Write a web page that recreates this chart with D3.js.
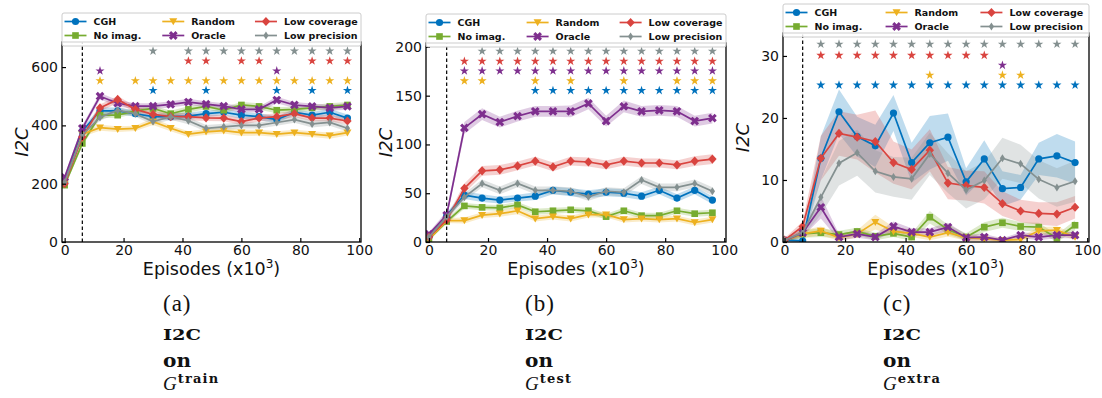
<!DOCTYPE html>
<html>
<head>
<meta charset="utf-8">
<script src="https://cdn.jsdelivr.net/npm/d3@7"></script>
<style>
  body { margin: 0; background: #fff; }
</style>
</head>
<body>
<script>
// episodes (x10^3) at which every run was evaluated
const episodes = [0, 6, 12, 18, 24, 30, 36, 42, 48, 54, 60, 66, 72, 78, 84, 90, 96]
const seriesNames = ["CGH", "No imag.", "Random", "Oracle", "Low coverage", "Low precision"]
const xTicks = [0, 20, 40, 60, 80, 100]
const warmup = 6

// (a) G train
const trainMean = {
    "CGH":           [205, 380, 450, 450, 440, 430, 430, 432, 440, 445, 435, 430, 420, 445, 435, 445, 425],
    "No imag.":      [195, 338, 435, 435, 450, 458, 440, 455, 465, 452, 470, 465, 452, 455, 460, 465, 470],
    "Random":        [200, 370, 392, 387, 390, 413, 390, 370, 378, 382, 375, 375, 370, 375, 370, 365, 375],
    "Oracle":        [222, 390, 500, 476, 466, 466, 472, 480, 473, 466, 455, 455, 487, 470, 465, 460, 465],
    "Low coverage":  [200, 360, 460, 489, 455, 438, 430, 430, 426, 425, 413, 425, 430, 440, 425, 425, 415],
    "Low precision": [205, 367, 427, 452, 440, 413, 430, 416, 390, 395, 400, 400, 410, 420, 405, 410, 390]
}
const trainStd = {
    "CGH":           [6, 10, 12, 11, 10, 11, 12, 12, 11, 10, 12, 12, 11, 10, 11, 12, 12],
    "No imag.":      [6, 9, 10, 10, 9, 10, 10, 11, 10, 10, 10, 11, 10, 10, 10, 11, 10],
    "Random":        [6, 9, 10, 10, 9, 12, 10, 10, 10, 10, 11, 10, 10, 10, 10, 11, 10],
    "Oracle":        [7, 10, 11, 11, 10, 10, 11, 11, 10, 10, 11, 10, 11, 10, 10, 10, 11],
    "Low coverage":  [6, 10, 12, 12, 11, 11, 12, 12, 11, 11, 12, 11, 12, 11, 11, 12, 11],
    "Low precision": [6, 9, 11, 11, 10, 11, 11, 12, 11, 11, 11, 11, 11, 11, 12, 11, 11]
}
const trainStars = {
    "Low precision": [30, 42, 48, 54, 60, 66, 72, 78, 84, 90, 96],
    "Low coverage":  [42, 48, 60, 66, 84, 90, 96],
    "Oracle":        [12, 72],
    "Random":        [12, 24, 30, 36, 42, 48, 54, 60, 66, 72, 78, 84, 90, 96],
    "CGH":           [30, 48, 72, 84, 96]
}
const trainStarY = { "Low precision": 655, "Low coverage": 621, "Oracle": 587, "Random": 553, "CGH": 520 }
const trainTicks = [0, 200, 400, 600]

// (b) G test
const testMean = {
    "CGH":           [5, 27, 48, 45, 43, 45, 47, 53, 51, 49, 51, 50, 47, 53, 45, 53, 43],
    "No imag.":      [3, 21, 37, 35.5, 35, 38, 31, 32, 33, 32, 26, 32, 27, 27, 32, 29, 30],
    "Random":        [3, 22, 22, 27.6, 29, 32, 24, 26, 24, 28, 28, 23, 24, 23, 24, 20, 23],
    "Oracle":        [8, 27.6, 117, 131, 123, 129, 134, 134, 134, 142, 124, 139, 134, 135, 134, 124, 127],
    "Low coverage":  [5, 22.5, 55, 73, 74, 78, 83, 77, 83, 82, 79, 83, 81, 81, 79, 83, 85],
    "Low precision": [5, 26, 46, 60, 53, 60, 53, 53, 52, 46.4, 52, 51, 63.5, 56, 56, 60, 52]
}
const testStd = {
    "CGH":           [1.5, 3, 4, 4, 3.5, 3.5, 4, 4, 4, 4, 4, 4, 4, 4, 4, 4, 4],
    "No imag.":      [1.5, 2.5, 3, 3, 3, 3, 3, 3, 3, 3, 3, 3, 3, 3, 3, 3, 3],
    "Random":        [1.5, 2.5, 3, 3, 3, 3.5, 3, 3, 3, 3, 3, 3, 3, 3, 3, 3, 3],
    "Oracle":        [2, 4, 6, 6, 5.5, 5.5, 5.5, 5.5, 6, 6, 5.5, 6, 5.5, 5.5, 5.5, 5.5, 5.5],
    "Low coverage":  [1.5, 3, 5, 5, 5, 4.5, 4.5, 4.5, 4.5, 4.5, 4.5, 4.5, 4.5, 4.5, 4.5, 5, 5],
    "Low precision": [1.5, 3, 4, 4, 4, 4, 4, 4, 4, 4, 4, 4, 4, 4, 4, 4, 4]
}
const testStars = {
    "Low precision": [18, 24, 30, 36, 42, 48, 54, 60, 66, 72, 78, 84, 90, 96],
    "Low coverage":  [12, 18, 24, 30, 36, 42, 48, 54, 60, 66, 72, 78, 84, 90, 96],
    "Oracle":        [12, 18, 24, 30, 36, 42, 48, 54, 60, 66, 72, 78, 84, 90, 96],
    "Random":        [12, 18, 36, 48, 66, 84, 90, 96],
    "CGH":           [36, 42, 48, 54, 60, 66, 72, 78, 84, 90, 96]
}
const testStarY = { "Low precision": 195.6, "Low coverage": 185.3, "Oracle": 175.4, "Random": 165.2, "CGH": 155.3 }
const testTicks = [0, 50, 100, 150, 200]

// (c) G extra
const extraMean = {
    "CGH":           [0.3, 0.2, 13.5, 21.0, 17.0, 15.5, 20.8, 12.8, 16.0, 16.9, 9.7, 13.4, 8.6, 8.8, 13.4, 13.9, 12.8],
    "No imag.":      [0.2, 1.3, 1.5, 1.2, 1.7, 0.9, 1.4, 0.8, 4.0, 2.0, 0.8, 2.4, 3.1, 2.5, 2.4, 0.6, 2.7],
    "Random":        [0.2, 1.3, 1.8, 0.7, 1.3, 3.2, 1.7, 1.4, 0.8, 1.5, 0.7, 0.5, 0.3, 0.4, 1.8, 1.9, 0.8],
    "Oracle":        [0.2, 1.5, 5.6, 0.8, 1.3, 0.8, 2.5, 1.6, 1.6, 2.4, 0.7, 0.8, 0.3, 1.1, 0.8, 1.1, 1.1],
    "Low coverage":  [0.3, 2.5, 13.5, 17.5, 16.9, 16.2, 12.8, 11.7, 14.8, 9.5, 9.1, 8.8, 6.2, 5.0, 4.6, 4.5, 5.6],
    "Low precision": [0.3, 1.5, 7.2, 12.7, 14.4, 11.4, 10.5, 10.2, 14.2, 11.1, 8.4, 9.9, 13.5, 12.6, 10.1, 8.8, 9.8]
}
const extraStd = {
    "CGH":           [0.3, 0.4, 3.5, 3.6, 3.2, 3.4, 2.9, 3.2, 4.3, 3.8, 2.2, 3.0, 2.8, 2.0, 2.6, 3.5, 3.4],
    "No imag.":      [0.2, 0.6, 0.7, 0.6, 0.6, 0.6, 0.6, 0.6, 1.0, 0.8, 0.6, 0.8, 0.8, 0.7, 0.7, 0.6, 0.8],
    "Random":        [0.2, 0.6, 0.7, 0.5, 0.6, 1.2, 0.7, 0.6, 0.5, 0.6, 0.5, 0.4, 0.3, 0.4, 0.6, 0.6, 0.5],
    "Oracle":        [0.2, 0.6, 1.8, 0.5, 0.6, 0.5, 0.8, 0.6, 0.6, 0.7, 0.5, 0.5, 0.3, 0.5, 0.5, 0.5, 0.5],
    "Low coverage":  [0.3, 0.8, 3.6, 3.6, 3.6, 5.0, 3.4, 3.2, 3.4, 2.6, 2.4, 2.6, 2.0, 1.8, 1.8, 1.9, 1.8],
    "Low precision": [0.3, 0.6, 2.8, 3.6, 3.7, 3.4, 3.2, 3.4, 3.4, 3.2, 3.0, 3.0, 3.3, 3.1, 3.1, 3.1, 3.3]
}
const extraStars = {
    "Low precision": [12, 18, 24, 30, 36, 42, 48, 54, 60, 66, 72, 78, 84, 90, 96],
    "Low coverage":  [12, 18, 24, 30, 36, 42, 48, 54, 60, 66],
    "Oracle":        [72],
    "Random":        [48, 72, 78],
    "CGH":           [12, 18, 24, 30, 36, 42, 48, 54, 60, 66, 72, 78, 84, 90, 96]
}
const extraStarY = { "Low precision": 31.9, "Low coverage": 30.1, "Oracle": 28.5, "Random": 26.9, "CGH": 25.3 }
const extraTicks = [0, 10, 20, 30]

const captionLetters = ["(a)", "(b)", "(c)"]
const captionSets = ["train", "test", "extra"]

// ---- styling / layout ----
const colors = {
    "CGH": "#0072bd",
    "No imag.": "#77ac30",
    "Random": "#edb120",
    "Oracle": "#7e2f8e",
    "Low coverage": "#d9443f",
    "Low precision": "#849090"
}
const sans = "'DejaVu Sans', sans-serif"
const serif = "'DejaVu Serif', serif"
const thinSerif = "'Liberation Serif', serif"

const panels = [
    { mean: trainMean, std: trainStd, stars: trainStars, starY: trainStarY, ticks: trainTicks,
      left: 62, right: 361, top: 42, bottom: 242, ymax: 686, xmin: -0.9, capX: 163 },
    { mean: testMean, std: testStd, stars: testStars, starY: testStarY, ticks: testTicks,
      left: 426, right: 726, top: 43, bottom: 242, ymax: 204, xmin: -1, capX: 525 },
    { mean: extraMean, std: extraStd, stars: extraStars, starY: extraStarY, ticks: extraTicks,
      left: 783, right: 1089, top: 33, bottom: 242, ymax: 33.7, xmin: -0.5, capX: 883 }
]

const svg = d3.select("body").append("svg")
    .attr("width", 1102)
    .attr("height", 398)

// marker shapes for each method
function drawMarker(sel, name, cx, cy) {
    const c = colors[name]
    let path
    if (name === "CGH") {
        return sel.append("circle").attr("cx", cx).attr("cy", cy).attr("r", 3.6).attr("fill", c)
    } else if (name === "No imag.") {
        path = d3.symbol(d3.symbolSquare, 44)()
    } else if (name === "Random") {
        path = "M-4,-3.2L4,-3.2L0,3.8Z"
    } else if (name === "Oracle") {
        path = d3.symbol(d3.symbolCross, 48)()
        return sel.append("path").attr("d", path).attr("fill", c)
            .attr("transform", `translate(${cx},${cy}) rotate(45)`)
    } else if (name === "Low coverage") {
        path = "M0,-4.6L4.2,0L0,4.6L-4.2,0Z"
    } else {
        path = "M0,-4L2.6,0L0,4L-2.6,0Z"
    }
    return sel.append("path").attr("d", path).attr("fill", c)
        .attr("transform", `translate(${cx},${cy})`)
}

panels.forEach((p, pi) => {
    const x = d3.scaleLinear().domain([p.xmin, 100.6]).range([p.left, p.right])
    const y = d3.scaleLinear().domain([0, p.ymax]).range([p.bottom, p.top])

    const clipId = "clip" + pi
    svg.append("clipPath").attr("id", clipId)
        .append("rect")
        .attr("x", p.left).attr("y", p.top)
        .attr("width", p.right - p.left).attr("height", p.bottom - p.top)

    const plot = svg.append("g").attr("clip-path", `url(#${clipId})`)

    // shaded std bands
    seriesNames.forEach(name => {
        const m = p.mean[name], s = p.std[name]
        const area = d3.area()
            .x((d, i) => x(episodes[i]))
            .y0((d, i) => y(m[i] - s[i]))
            .y1((d, i) => y(m[i] + s[i]))
        plot.append("path")
            .attr("d", area(m))
            .attr("fill", colors[name])
            .attr("fill-opacity", 0.25)
    })

    // mean lines and markers
    seriesNames.forEach(name => {
        const m = p.mean[name]
        const line = d3.line()
            .x((d, i) => x(episodes[i]))
            .y(d => y(d))
        plot.append("path")
            .attr("d", line(m))
            .attr("fill", "none")
            .attr("stroke", colors[name])
            .attr("stroke-width", 1.7)
        m.forEach((v, i) => drawMarker(plot, name, x(episodes[i]), y(v)))
    })

    // significance stars
    Object.keys(p.stars).forEach(name => {
        p.stars[name].forEach(ep => {
            svg.append("path")
                .attr("d", d3.symbol(d3.symbolStar, 26)())
                .attr("fill", colors[name])
                .attr("transform", `translate(${x(ep)},${y(p.starY[name])})`)
        })
    })

    // warm-up line
    svg.append("line")
        .attr("x1", x(warmup)).attr("x2", x(warmup))
        .attr("y1", p.bottom).attr("y2", p.top)
        .attr("stroke", "#000")
        .attr("stroke-width", 1.2)
        .attr("stroke-dasharray", "3.5,2.5")

    // axes, ticks pointing inward
    const xAxis = d3.axisBottom(x).tickValues(xTicks).tickSize(-4).tickPadding(3)
    const yAxis = d3.axisLeft(y).tickValues(p.ticks).tickSize(-4).tickPadding(4)

    const gx = svg.append("g").attr("transform", `translate(0,${p.bottom})`).call(xAxis)
    const gy = svg.append("g").attr("transform", `translate(${p.left},0)`).call(yAxis)
    gx.select(".domain").remove()
    gy.select(".domain").remove()
    ;[gx, gy].forEach(g => {
        g.selectAll("line").attr("stroke", "#000").attr("stroke-width", 1.2)
        g.selectAll("text").style("font-size", "14px").attr("fill", "#111")
            .style("font-family", sans)
    })

    svg.append("rect")
        .attr("x", p.left).attr("y", p.top)
        .attr("width", p.right - p.left).attr("height", p.bottom - p.top)
        .attr("fill", "none")
        .attr("stroke", "#000")
        .attr("stroke-width", 1.3)

    // axis labels
    const mid = (p.left + p.right) / 2
    const xl = svg.append("text")
        .attr("x", mid).attr("y", 275)
        .attr("text-anchor", "middle")
        .style("font-family", sans)
        .style("font-size", "17.5px")
        .attr("fill", "#111")
    xl.append("tspan").text("Episodes (x10")
    xl.append("tspan").attr("dy", -7).style("font-size", "12px").text("3")
    xl.append("tspan").attr("dy", 7).text(")")

    svg.append("text")
        .attr("transform", `translate(${p.left - 34},${(p.top + p.bottom) / 2}) rotate(-90)`)
        .attr("text-anchor", "middle")
        .style("font-family", sans)
        .style("font-size", "18px")
        .style("font-style", "italic")
        .attr("fill", "#111")
        .text("I2C")

    // legend, three columns laid over the top of the axes
    const w = p.right - p.left
    const lg = svg.append("g").attr("transform", `translate(${p.left},${p.top - 29})`)
    lg.append("rect")
        .attr("x", 0).attr("y", 0)
        .attr("width", w).attr("height", 33)
        .attr("rx", 2)
        .attr("fill", "#fff").attr("fill-opacity", 0.85)
        .attr("stroke", "#ccc").attr("stroke-width", 1)
    const colX = [0, 0.327 * w, 0.637 * w]
    seriesNames.forEach((name, i) => {
        const cx = colX[Math.floor(i / 2)]
        const cy = i % 2 === 0 ? 8.5 : 22.5
        lg.append("line")
            .attr("x1", cx + 2.5).attr("x2", cx + 24.5)
            .attr("y1", cy).attr("y2", cy)
            .attr("stroke", colors[name]).attr("stroke-width", 1.7)
        drawMarker(lg, name, cx + 13.5, cy)
        lg.append("text")
            .attr("x", cx + 31.5).attr("y", cy)
            .attr("dy", "0.35em")
            .style("font-family", sans)
            .style("font-size", "9.5px")
            .style("font-weight", "bold")
            .attr("fill", "#111")
            .text(name)
    })

    // sub caption
    const cap = svg.append("g").attr("fill", "#111")
    cap.append("text").attr("x", p.capX).attr("y", 311)
        .style("font-family", thinSerif).style("font-size", "23px")
        .style("letter-spacing", "1px")
        .text(captionLetters[pi])
    cap.append("text").attr("x", p.capX).attr("y", 340)
        .style("font-family", serif).style("font-size", "14px").style("font-weight", "bold")
        .attr("textLength", 38).attr("lengthAdjust", "spacingAndGlyphs")
        .text("I2C")
    cap.append("text").attr("x", p.capX).attr("y", 367)
        .style("font-family", serif).style("font-size", "19px").style("font-weight", "bold")
        .attr("textLength", 28).attr("lengthAdjust", "spacingAndGlyphs")
        .text("on")
    const g = cap.append("text").attr("x", p.capX).attr("y", 390)
        .style("font-family", thinSerif)
    g.append("tspan").style("font-size", "19px").style("font-style", "italic").text("G")
    g.append("tspan").attr("dy", -7).attr("dx", 1)
        .style("font-family", serif).style("font-size", "13px").style("font-weight", "bold")
        .style("letter-spacing", "1.2px")
        .text(captionSets[pi])
})
</script>
</body>
</html>
